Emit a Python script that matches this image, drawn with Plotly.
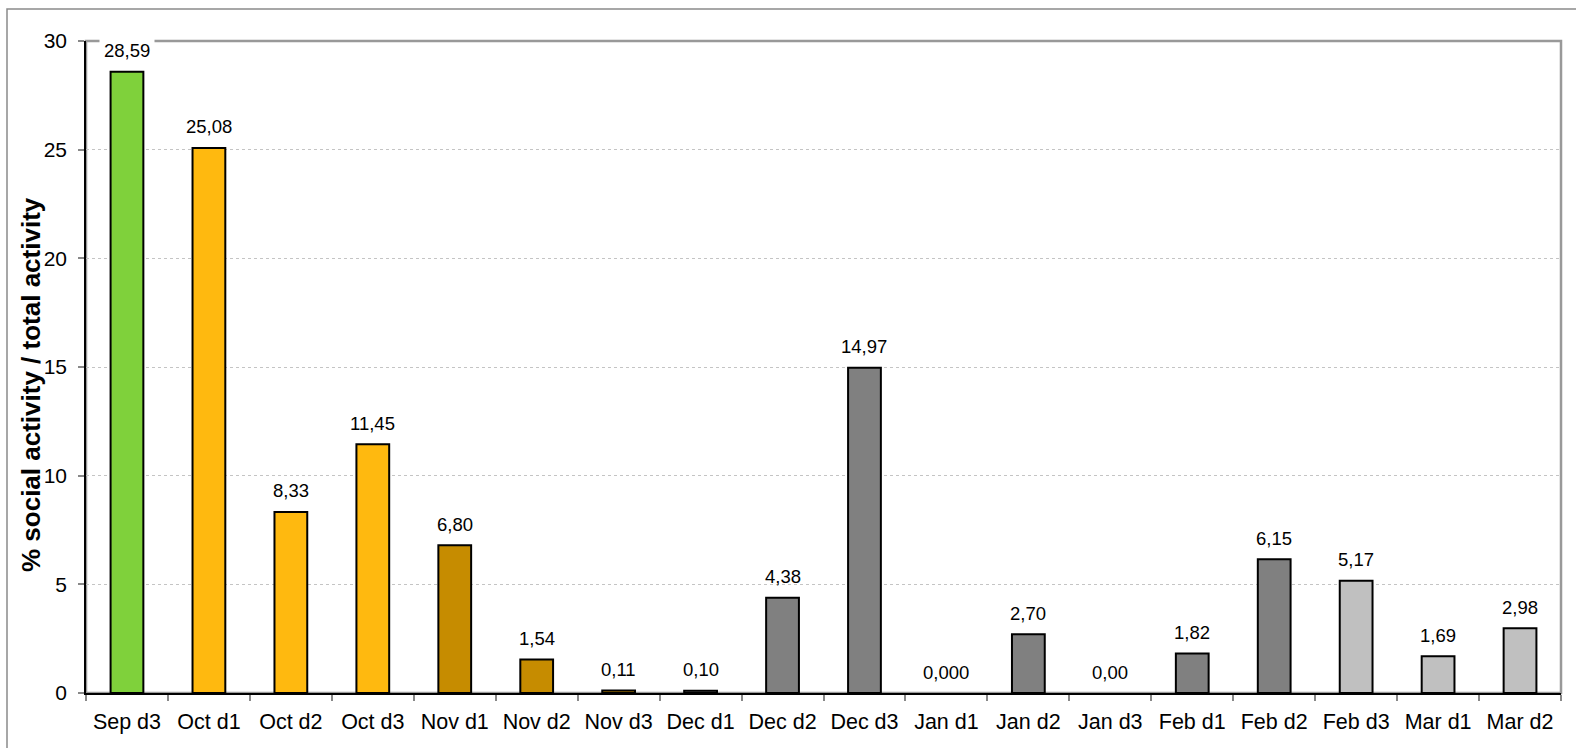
import plotly.graph_objects as go

# Ten-day periods (décadas) and share of social activity
periods = ["Sep d3", "Oct d1", "Oct d2", "Oct d3", "Nov d1", "Nov d2", "Nov d3",
           "Dec d1", "Dec d2", "Dec d3", "Jan d1", "Jan d2", "Jan d3", "Feb d1",
           "Feb d2", "Feb d3", "Mar d1", "Mar d2"]
social_pct = [28.59, 25.08, 8.33, 11.45, 6.80, 1.54, 0.11, 0.10, 4.38, 14.97,
              0.000, 2.70, 0.00, 1.82, 6.15, 5.17, 1.69, 2.98]
value_labels = ["28,59", "25,08", "8,33", "11,45", "6,80", "1,54", "0,11", "0,10",
                "4,38", "14,97", "0,000", "2,70", "0,00", "1,82", "6,15", "5,17",
                "1,69", "2,98"]
y_ticks = [0, 5, 10, 15, 20, 25, 30]

# Colour per season group
GREEN, ORANGE, GOLD, GRAY, LIGHT = "#7FD13B", "#FFB90F", "#C68C00", "#808080", "#C0C0C0"
bar_colors = [GREEN, ORANGE, ORANGE, ORANGE, GOLD, GOLD, GOLD,
              GRAY, GRAY, GRAY, GRAY, GRAY, GRAY, GRAY, GRAY,
              LIGHT, LIGHT, LIGHT]

FONT = "Liberation Sans, Arial, sans-serif"

# empty periods get no outline so nothing shows on the axis
outline_w = [2 if v > 0 else 0 for v in social_pct]

fig = go.Figure(go.Bar(
    x=periods, y=social_pct,
    marker=dict(color=bar_colors, line=dict(color="black", width=outline_w)),
    width=0.4,
))

for p, v, lab in zip(periods, social_pct, value_labels):
    fig.add_annotation(
        x=p, y=v, text=lab, showarrow=False, yanchor="middle", yshift=21,
        font=dict(family=FONT, size=18.5, color="black"),
        bgcolor="white" if v > 28 else None, borderpad=4,
    )

L, R, T, B = 86, 15, 41, 55
W, H = 1576, 748
pw, ph = W - L - R, H - T - B

# y-axis title, centred on the whole chart height
fig.add_annotation(
    xref="paper", yref="paper", x=(31 - L) / pw, y=(H - B - 385) / ph,
    text="<b>% social activity / total activity</b>", textangle=-90,
    showarrow=False, xanchor="center", yanchor="middle",
    font=dict(family=FONT, size=26, color="black"),
)

# outer chart frame
fig.add_shape(type="rect", xref="paper", yref="paper",
              x0=(7 - L) / pw, x1=1.05, y0=-0.2, y1=1 + (T - 9) / ph,
              line=dict(color="#8a8a8a", width=1.5), layer="below")
# plot-area frame
fig.add_shape(type="rect", xref="paper", yref="paper", x0=0, x1=1, y0=0, y1=1,
              line=dict(color="#999999", width=2.5), layer="below")

fig.update_layout(
    width=W, height=H,
    margin=dict(l=L, r=R, t=T, b=B),
    paper_bgcolor="white", plot_bgcolor="white",
    showlegend=False,
    font=dict(family=FONT, color="black"),
)
fig.update_xaxes(
    type="category", tickson="boundaries", ticks="outside", ticklen=6,
    tickcolor="#888888", tickwidth=1.5,
    showline=True, linecolor="black", linewidth=1.5,
    tickfont=dict(size=21.5, family=FONT), showgrid=False,
    ticklabelstandoff=8,
)
fig.update_yaxes(
    range=[0, 30], tickvals=y_ticks, ticks="outside", ticklen=6,
    tickcolor="#888888", tickwidth=1.5,
    showline=True, linecolor="black", linewidth=1.5,
    showgrid=True, gridcolor="#c4c4c4", griddash="dot", gridwidth=1,
    zeroline=False, tickfont=dict(size=21, family=FONT),
    ticklabelstandoff=7,
)

fig.write_html("out.html")
